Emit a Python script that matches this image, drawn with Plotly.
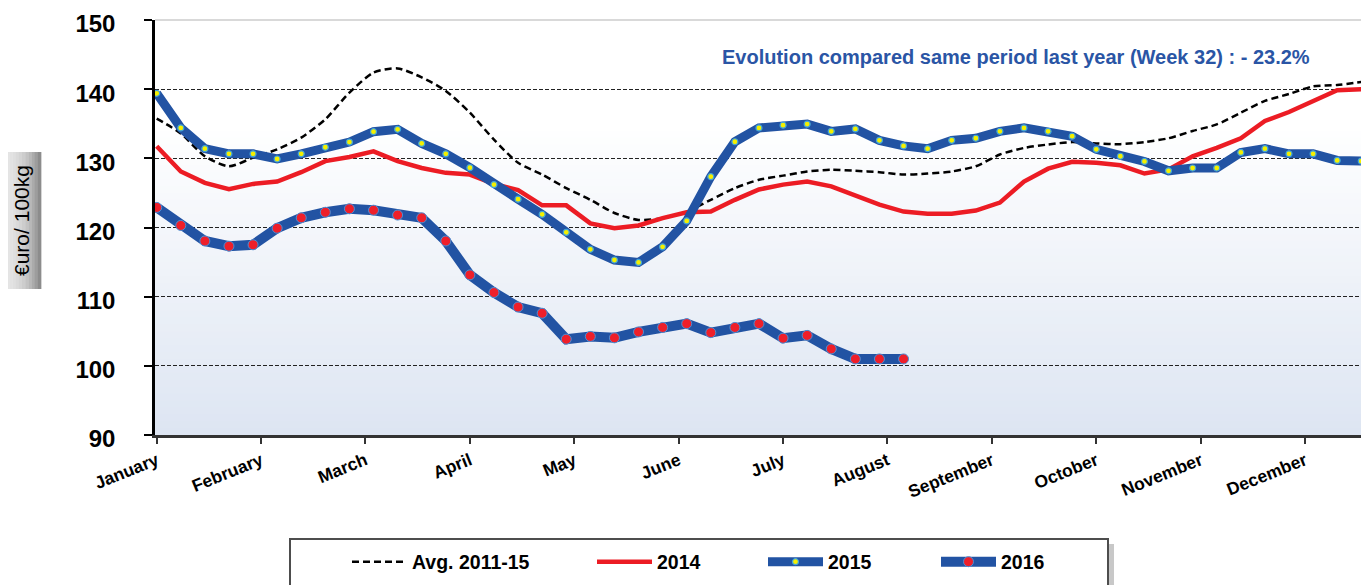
import plotly.graph_objects as go

# ---------------- data ----------------
weeks = list(range(1, 52))
weeks_2016 = list(range(1, 33))

avg_2011_15 = [135.75, 133.6, 130.3, 128.85, 130.1, 131.3, 133.0, 135.65, 139.5, 142.4,
               143.0, 141.7, 139.75, 136.6, 132.7, 129.35, 127.65, 125.7, 124.0, 122.1,
               121.1, 121.35, 122.3, 124.0, 125.7, 126.9, 127.5, 128.1, 128.35, 128.2,
               128.0, 127.65, 127.8, 128.1, 128.85, 130.55, 131.5, 132.0, 132.35, 132.15,
               132.05, 132.35, 132.9, 133.95, 134.9, 136.6, 138.3, 139.3, 140.4, 140.6, 141.05]

y2014 = [131.75, 128.1, 126.45, 125.55, 126.3, 126.65, 128.0, 129.6, 130.2, 131.0,
         129.6, 128.6, 127.9, 127.65, 126.3, 125.4, 123.2, 123.2, 120.6, 119.9,
         120.3, 121.35, 122.2, 122.3, 124.0, 125.5, 126.2, 126.65, 125.95, 124.6,
         123.3, 122.3, 122.0, 122.0, 122.45, 123.6, 126.65, 128.5, 129.5, 129.35,
         129.0, 127.8, 128.4, 130.3, 131.5, 132.9, 135.4, 136.7, 138.3, 139.85, 140.0]

y2015 = [139.4, 134.4, 131.4, 130.65, 130.65, 129.9, 130.65, 131.6, 132.35, 133.85,
         134.2, 132.15, 130.65, 128.65, 126.2, 124.1, 121.9, 119.3, 116.85, 115.3,
         114.95, 117.2, 120.95, 127.35, 132.4, 134.4, 134.8, 134.95, 133.9, 134.25,
         132.6, 131.8, 131.4, 132.6, 132.9, 133.9, 134.4, 133.9, 133.2, 131.3,
         130.3, 129.55, 128.2, 128.6, 128.6, 130.85, 131.4, 130.65, 130.65, 129.7, 129.6]

y2016 = [122.9, 120.3, 118.05, 117.3, 117.5, 119.9, 121.4, 122.2, 122.7, 122.5,
         121.8, 121.4, 118.05, 113.15, 110.6, 108.5, 107.6, 103.85, 104.25, 104.05,
         104.9, 105.55, 106.1, 104.8, 105.55, 106.1, 104.0, 104.4, 102.45, 101.0,
         101.0, 101.0]

months = ["January", "February", "March", "April", "May", "June", "July",
          "August", "September", "October", "November", "December"]

series_names = ["Avg. 2011-15", "2014", "2015", "2016"]
annotation_text = "Evolution compared same period last year (Week 32) : - 23.2%"
y_title = "€uro/ 100kg"

# ---------------- styling ----------------
FONT = "Liberation Sans, Arial, sans-serif"
BLUE = "#2253a3"
RED = "#ec1c24"

fig = go.Figure()

fig.add_trace(go.Scatter(
    x=weeks, y=avg_2011_15, name=series_names[0], mode="lines",
    line=dict(color="black", width=2.5, dash="7px,4px", shape="spline", smoothing=0.7),
    legend="legend"))
fig.add_trace(go.Scatter(
    x=weeks, y=y2014, name=series_names[1], mode="lines",
    line=dict(color=RED, width=4.5), legend="legend2"))
fig.add_trace(go.Scatter(
    x=weeks, y=y2015, name=series_names[2], mode="lines+markers",
    line=dict(color=BLUE, width=9),
    marker=dict(color="#f4f000", size=6, line=dict(color="#3fa3dc", width=1.2)),
    legend="legend3"))
fig.add_trace(go.Scatter(
    x=weeks_2016, y=y2016, name=series_names[3], mode="lines+markers",
    line=dict(color=BLUE, width=10),
    marker=dict(color="#ee1f2a", size=10, line=dict(color="#4a8fd6", width=1)),
    legend="legend4"))

# page body has an 8px margin: figure is offset by OFF in the screenshot
OFF = 8
W, H = 1369 - OFF, 585 - OFF
PLOT_L, PLOT_R, PLOT_T, PLOT_B = 155, 1362, 20, 435   # in screenshot pixels
ML = PLOT_L - OFF
MT = PLOT_T - OFF
MR = W - (PLOT_R - OFF)
MB = H - (PLOT_B - OFF)
PW, PH = PLOT_R - PLOT_L, PLOT_B - PLOT_T


def px_x(px):
    return (px - PLOT_L) / PW


def px_y(py):
    return (PLOT_B - py) / PH


shapes = []
# plot background gradient (white top -> light blue bottom)
N = 60
top_rgb = (255, 255, 255)
bot_rgb = (221, 229, 242)
for i in range(N):
    y0 = i / N
    y1 = (i + 1) / N
    t = min(1.0, ((y0 + y1) / 2) / 0.75)
    c = tuple(round(b + (tt - b) * t) for b, tt in zip(bot_rgb, top_rgb))
    shapes.append(dict(type="rect", xref="x domain", yref="y domain",
                       x0=0, x1=1, y0=y0, y1=y1 + 0.002, layer="below",
                       line=dict(width=0), fillcolor="rgb(%d,%d,%d)" % c))
# top border (light grey)
shapes.append(dict(type="line", xref="x domain", yref="y domain", x0=0, x1=1, y0=1, y1=1,
                   layer="above", line=dict(color="#d9d9d9", width=2)))
# right grey strip
shapes.append(dict(type="rect", xref="paper", yref="paper", x0=1.0, x1=px_x(1369),
                   y0=0, y1=1.0, line=dict(width=0), fillcolor="#d4d4d4", layer="above"))

# y title box with grey gradient
bx0, bx1, by0, by1 = 3, 41, 152, 289
NS = 12
for i in range(NS):
    t = i / (NS - 1)
    g = round(228 - (228 - 140) * (t ** 2.2))
    shapes.append(dict(type="rect", xref="paper", yref="paper",
                       x0=px_x(bx0 + (bx1 - bx0) * i / NS),
                       x1=px_x(bx0 + (bx1 - bx0) * (i + 1) / NS) + 0.0003,
                       y0=px_y(by1), y1=px_y(by0), line=dict(width=0),
                       fillcolor="rgb(%d,%d,%d)" % (g, g, g), layer="above"))

# legend frame (shadow + box)
lx0, lx1, ly0, ly1 = 290, 1108, 539, 600
shapes.append(dict(type="rect", xref="paper", yref="paper",
                   x0=px_x(lx0 + 5), x1=px_x(lx1 + 6), y0=px_y(ly1 + 6), y1=px_y(ly0 + 5),
                   line=dict(width=0), fillcolor="#c8c8c8", layer="above"))
shapes.append(dict(type="rect", xref="paper", yref="paper",
                   x0=px_x(lx0), x1=px_x(lx1), y0=px_y(ly1), y1=px_y(ly0),
                   line=dict(color="#4d4d4d", width=2), fillcolor="white", layer="above"))

annotations = [
    dict(text=annotation_text, xref="paper", yref="paper", x=px_x(1016), y=px_y(57),
         xanchor="center", yanchor="middle", showarrow=False,
         font=dict(family=FONT, size=20, color="#2a55a5", weight="bold")),
    dict(text=y_title, xref="paper", yref="paper", x=px_x(22), y=px_y(221),
         xanchor="center", yanchor="middle", showarrow=False, textangle=-90,
         font=dict(family=FONT, size=21, color="black")),
]

legend_common = dict(orientation="h", yanchor="middle", xanchor="left",
                     bgcolor="rgba(0,0,0,0)", borderwidth=0, itemwidth=55,
                     font=dict(family=FONT, size=19.5, color="black", weight="bold"))
leg_y = px_y(562)
fig.update_layout(
    legend=dict(x=px_x(347), y=leg_y, **legend_common),
    legend2=dict(x=px_x(592), y=leg_y, **legend_common),
    legend3=dict(x=px_x(763), y=leg_y, **legend_common),
    legend4=dict(x=px_x(936), y=leg_y, **legend_common),
)

month_ticks = [1 + i * 52 / 12 for i in range(len(months))]

fig.update_layout(
    width=W, height=H,
    margin=dict(l=ML, r=MR, t=MT, b=MB, pad=0, autoexpand=False),
    paper_bgcolor="white", plot_bgcolor="white",
    showlegend=True,
    shapes=shapes,
    annotations=annotations,
    xaxis=dict(range=[0.93, 51.03], tickmode="array", tickvals=month_ticks, ticktext=months,
               tickangle=-22, ticks="outside", ticklen=6, tickwidth=1.5, tickcolor="#333",
               showline=True, linecolor="#333", linewidth=2.5, showgrid=False, zeroline=False,
               automargin=False, ticklabeloverflow="allow",
               tickfont=dict(family=FONT, size=17.5, color="black", weight="bold")),
    yaxis=dict(range=[90, 150], tickmode="linear", tick0=90, dtick=10,
               ticks="outside", ticklen=8, tickwidth=1.5, tickcolor="black",
               ticklabelstandoff=24, ticklabelshift=4,
               automargin=False, ticklabeloverflow="allow",
               showline=True, linecolor="black", linewidth=2.5,
               showgrid=True, gridcolor="#222", gridwidth=1, griddash="4px,2px",
               zeroline=False,
               tickfont=dict(family=FONT, size=24, color="black", weight="bold")),
)

fig.write_html("out.html")
